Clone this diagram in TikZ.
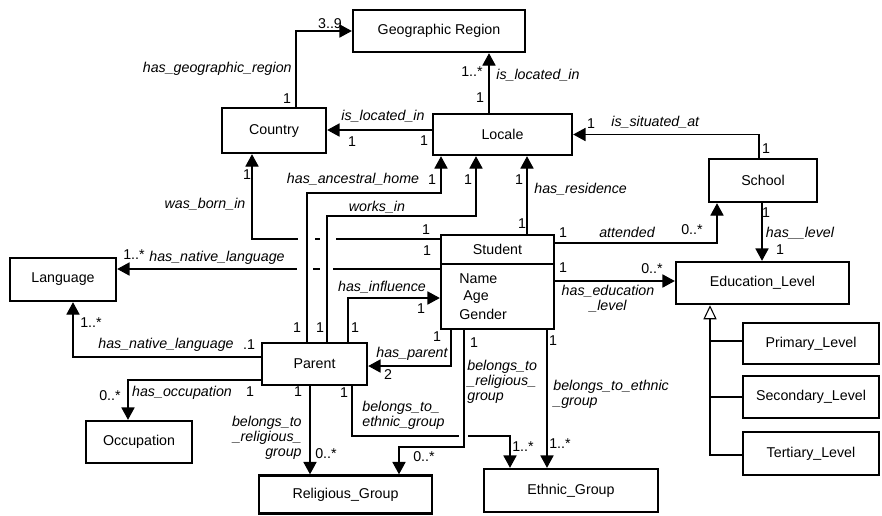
\documentclass[tikz,border=0pt]{standalone}
\usepackage{fontspec}
\setmainfont{Liberation Sans}
\usetikzlibrary{arrows.meta,calc,positioning}
\newcommand{\umlfont}{\fontsize{8.1}{8.5}\selectfont}
\tikzset{
  klass/.style={
    draw, line width=1.4pt, fill=white, inner sep=0pt,
    font=\umlfont, align=center
  },
  assoc/.style={-{Triangle[length=7pt,width=7.5pt]}, line width=0.6pt},
  plain/.style={line width=0.6pt},
  inherit/.style={-{Triangle[open,length=8pt,width=7.5pt]}, line width=0.6pt},
  role/.style={font=\umlfont\itshape, inner sep=0pt},
  mult/.style={font=\umlfont, inner sep=0pt},
  gap/.style={fill=white, draw=none}
}

\begin{document}
\begin{tikzpicture}[x=0.02cm,y=-0.02cm]
  \useasboundingbox (0,0) rectangle (882,515);

  % classes
  \node[klass, minimum width=3.44cm, minimum height=0.84cm] (georegion) at (439,31) {Geographic Region};
  \node[klass, minimum width=2.08cm, minimum height=0.9cm] (country) at (274,130.5) {Country};
  \node[klass, minimum width=2.78cm, minimum height=0.82cm] (locale) at (502.5,134.5) {Locale};
  \node[klass, minimum width=2.16cm, minimum height=0.86cm] (school) at (763,180.5) {School};
  \node[klass, minimum width=2.12cm, minimum height=0.86cm] (language) at (63,279.5) {Language};
  \node[klass, minimum width=3.46cm, minimum height=0.84cm] (edulevel) at (762.5,283) {Education\_Level};
  \node[klass, minimum width=2.26cm, minimum height=1.88cm] (student) at (497.5,282) {};
  \node[klass, minimum width=2.10cm, minimum height=0.84cm] (parent) at (314.5,364) {Parent};
  \node[klass, minimum width=2.12cm, minimum height=0.84cm] (occupation) at (139,442) {Occupation};
  \node[klass, minimum width=3.46cm, minimum height=0.76cm] (religious) at (345.5,494.5) {Religious\_Group};
  \node[klass, minimum width=3.48cm, minimum height=0.86cm] (ethnic) at (571,490.5) {Ethnic\_Group};
  \node[klass, minimum width=2.72cm, minimum height=0.82cm] (primary) at (811,343.5) {Primary\_Level};
  \node[klass, minimum width=2.72cm, minimum height=0.84cm] (secondary) at (811,397) {Secondary\_Level};
  \node[klass, minimum width=2.72cm, minimum height=0.86cm] (tertiary) at (811,453.5) {Tertiary\_Level};

  % student compartments
  \draw[line width=1.4pt] (student.west |- 0,264) -- (student.east |- 0,264);
  \node[mult] (studenttitle) at (497.5,249.5) {Student};
  \node[mult, anchor=west] (attrname) at (459,279) {Name};
  \node[mult, anchor=west] (attrage) at (463,297) {Age};
  \node[mult, anchor=west] (attrgender) at (459,314) {Gender};

  % lines that get crossed
  \draw[assoc] (student.west |- 0,239) -| (country.south -| 252,0);
  \draw[assoc] (student.west |- 0,269) -- (language.east |- 0,269);
  \draw[assoc] (parent.south -| 352,0) -- (352,436) -| (ethnic.north -| 510,0);
  \foreach \gx/\gy/\gw in {306.5/239/8.5, 328/239/8, 305/269/8, 326.5/269/6.5, 463.5/436/4.5}
    \fill[gap] (\gx-\gw,\gy-3) rectangle (\gx+\gw,\gy+3);

  % associations
  \draw[assoc] (country.north -| 296,0) |- (georegion.west);
  \draw[assoc] (locale.north -| 489,0) -- (georegion.south -| 489,0);
  \draw[assoc] (locale.west |- 0,130) -- (country.east |- 0,130);
  \draw[assoc] (school.north -| 759,0) |- (locale.east);
  \draw[assoc] (parent.north -| 307,0) -- (307,193) -| (locale.south -| 441,0);
  \draw[assoc] (parent.north -| 327,0) -- (327,216) -| (locale.south -| 476,0);
  \draw[assoc] (student.south -| 464,0) -- (464,447) -| (religious.north -| 399,0);
  \draw[assoc] (student.north -| 527,0) -- (locale.south -| 527,0);
  \draw[assoc] (parent.north -| 348,0) |- (student.west |- 0,298);
  \draw[assoc] (student.south -| 451,0) |- (parent.east |- 0,366);
  \draw[assoc] (student.east |- 0,243) -| (school.south -| 717,0);
  \draw[assoc] (student.east |- 0,281) -- (edulevel.west |- 0,281);
  \draw[assoc] (school.south -| 762,0) -- (edulevel.north -| 762,0);
  \draw[assoc] (parent.west |- 0,357) -| (language.south -| 73,0);
  \draw[assoc] (parent.west |- 0,380) -| (occupation.north -| 128,0);
  \draw[assoc] (parent.south -| 310,0) -- (religious.north -| 310,0);
  \draw[assoc] (student.south -| 547,0) -- (ethnic.north -| 547,0);

  % generalization
  \coordinate (genbase) at (710,304);
  \draw[inherit] (tertiary.west |- 0,455) -| (edulevel.south -| genbase);
  \draw[plain] (primary.west |- 0,341) -- (genbase |- 0,341);
  \draw[plain] (secondary.west) -- (secondary.west -| genbase);

  % roles and multiplicities
  \node[mult] (geoM1) at (330,24) {3..9};
  \node[role, anchor=east] (geoR) at (292,69) {has\_geographic\_region};
  \node[mult] (geoM2) at (287,99) {1};
  \node[mult] (locgeoM1) at (472,72) {1..*};
  \node[role, anchor=west] (locgeoR) at (496,75) {is\_located\_in};
  \node[mult] (locgeoM2) at (480,98) {1};
  \node[role] (loccouR) at (383,116) {is\_located\_in};
  \node[mult] (loccouM1) at (352,142) {1};
  \node[mult] (loccouM2) at (424,141) {1};
  \node[mult] (sitM1) at (591,124) {1};
  \node[role, anchor=west] (sitR) at (611,122) {is\_situated\_at};
  \node[mult] (sitM2) at (766,149) {1};
  \node[mult] (bornM1) at (247,175) {1};
  \node[role] (bornR) at (205,204) {was\_born\_in};
  \node[mult] (bornM2) at (426,230) {1};
  \node[mult] (natsM1) at (134,255) {1..*};
  \node[role] (natsR) at (217,258) {has\_native\_language};
  \node[mult] (natsM2) at (427,251) {1};
  \node[role] (ancR) at (353,179) {has\_ancestral\_home};
  \node[mult] (ancM1) at (432,180) {1};
  \node[mult] (ancM2) at (297,328) {1};
  \node[role] (workR) at (377,207) {works\_in};
  \node[mult] (workM1) at (468,180) {1};
  \node[mult] (workM2) at (320,328) {1};
  \node[mult] (resM1) at (519,180) {1};
  \node[role, anchor=west] (resR) at (534,189) {has\_residence};
  \node[mult] (resM2) at (522,224) {1};
  \node[role] (inflR) at (382,287) {has\_influence};
  \node[mult] (inflM1) at (421,309) {1};
  \node[mult] (inflM2) at (355,328) {1};
  \node[mult] (parM1) at (437,337) {1};
  \node[role] (parR) at (412,354) {has\_parent};
  \node[mult] (parM2) at (388,375) {2};
  \node[mult] (attM1) at (563,233) {1};
  \node[role] (attR) at (627,232) {attended};
  \node[mult] (attM2) at (692,230) {0..*};
  \node[mult] (eduM1) at (563,268) {1};
  \node[mult] (eduM2) at (652,269) {0..*};
  \node[role, align=center] (eduR) at (608,299) {has\_education\\\_level};
  \node[mult] (lvlM1) at (766,213) {1};
  \node[role] (lvlR) at (800,233) {has\_\_level};
  \node[mult] (lvlM2) at (780,250) {1};
  \node[role] (natpR) at (166,345) {has\_native\_language};
  \node[mult] (natpM1) at (249,345) {.1};
  \node[mult] (natpM2) at (91,323) {1..*};
  \node[role] (occR) at (182,393) {has\_occupation};
  \node[mult] (occM1) at (250,392) {1};
  \node[mult] (occM2) at (110,396) {0..*};
  \node[mult] (prelM1) at (298,392) {1};
  \node[role, anchor=east, align=right] (prelR) at (302,438) {belongs\_to\\\_religious\_\\group};
  \node[mult] (prelM2) at (326,454) {0..*};
  \node[mult] (pethM1) at (344,393) {1};
  \node[role, anchor=west, align=left] (pethR) at (362,415) {belongs\_to\_\\ethnic\_group};
  \node[mult] (pethM2) at (523,447) {1..*};
  \node[mult] (srelM1) at (474,343) {1};
  \node[role, anchor=west, align=left] (srelR) at (467,382) {belongs\_to\\\_religious\_\\group};
  \node[mult] (srelM2) at (424,457) {0..*};
  \node[mult] (sethM1) at (553,341) {1};
  \node[role, anchor=west, align=left] (sethR) at (553,394) {belongs\_to\_ethnic\\\_group};
  \node[mult] (sethM2) at (560,444) {1..*};
\end{tikzpicture}
\end{document}
